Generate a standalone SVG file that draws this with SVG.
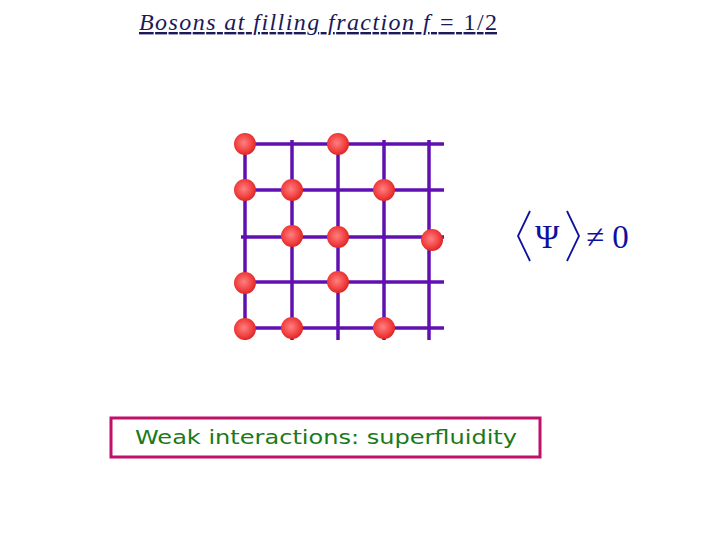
<svg xmlns="http://www.w3.org/2000/svg" width="720" height="540" viewBox="0 0 720 540">
<defs>
<radialGradient id="g" cx="0.45" cy="0.45" r="0.6"><stop offset="0" stop-color="#ff8080"/><stop offset="0.7" stop-color="#f03a3a"/><stop offset="1" stop-color="#d02020"/></radialGradient>
</defs>
<style>.l{stroke:#6010b0;stroke-width:3.5}.p{fill:url(#g)}</style>
<rect width="720" height="540" fill="#fff"/>
<text x="139" y="30" font-family="Liberation Serif, serif" font-size="24" font-style="italic" fill="#1a1a5a" text-decoration="underline" textLength="358" lengthAdjust="spacing">Bosons at filling fraction <tspan>f</tspan> = <tspan font-style="normal">1/2</tspan></text>
<g id="connectors">
<line class="l" x1="245" y1="144" x2="444" y2="144"/>
<line class="l" x1="241" y1="190" x2="444" y2="190"/>
<line class="l" x1="241" y1="237" x2="444" y2="237"/>
<line class="l" x1="245" y1="282" x2="444" y2="282"/>
<line class="l" x1="241" y1="328" x2="444" y2="328"/>
<line class="l" x1="245" y1="144" x2="245" y2="340"/>
<line class="l" x1="292" y1="140" x2="292" y2="340"/>
<line class="l" x1="338" y1="140" x2="338" y2="340"/>
<line class="l" x1="384" y1="140" x2="384" y2="340"/>
<line class="l" x1="429" y1="140" x2="429" y2="340"/>
</g>
<g id="particles">
<circle class="p" cx="245" cy="144" r="11"/><circle class="p" cx="338" cy="144" r="11"/>
<circle class="p" cx="245" cy="190" r="11"/><circle class="p" cx="292" cy="190" r="11"/><circle class="p" cx="384" cy="190" r="11"/>
<circle class="p" cx="292" cy="236" r="11"/><circle class="p" cx="338" cy="237" r="11"/><circle class="p" cx="432" cy="240" r="11"/>
<circle class="p" cx="245" cy="283" r="11"/><circle class="p" cx="338" cy="282" r="11"/>
<circle class="p" cx="245" cy="329" r="11"/><circle class="p" cx="292" cy="328" r="11"/><circle class="p" cx="384" cy="328" r="11"/>
</g>
<g id="formula" fill="#1010a0" font-family="Liberation Serif, serif">
<path d="M530 211 L518 236 L530 261 M567 211 L579 236 L567 261" fill="none" stroke="#1010a0" stroke-width="1.8"/>
<text x="535" y="248" font-size="33">Ψ</text>
<text x="586" y="248" font-size="33">≠ 0</text>
</g>
<g id="box">
<rect x="111" y="418" width="429" height="39" fill="#fff" stroke="#c0106a" stroke-width="3"/>
<text x="135" y="444" font-family="DejaVu Sans, sans-serif" font-size="20" fill="#1a7a1a" textLength="382" lengthAdjust="spacingAndGlyphs">Weak interactions: superfluidity</text>
</g>
</svg>
